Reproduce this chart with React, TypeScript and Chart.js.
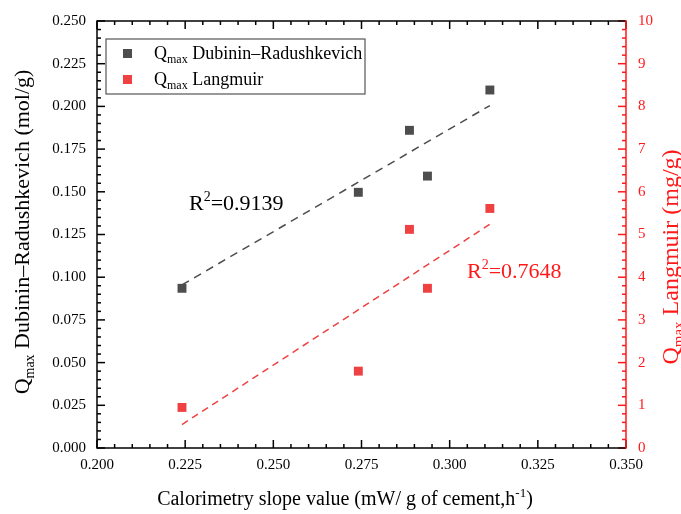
import React, { useEffect, useRef } from "react";
import { Chart, registerables } from "chart.js";

Chart.register(...registerables);

// ---- data ----
const slopeValues = [0.2241, 0.2741, 0.2886, 0.2937, 0.3114];
const qmaxDR = [0.0935, 0.1497, 0.186, 0.1592, 0.2096];
const qmaxLangmuir = [0.95, 1.8, 5.12, 3.74, 5.61];

const fitDRx = [0.2241, 0.3114];
const fitDRy = [0.0955, 0.2005];
const fitLangX = [0.2241, 0.3114];
const fitLangY = [0.55, 5.24];

const xTickValues = [0.2, 0.225, 0.25, 0.275, 0.3, 0.325, 0.35];
const leftTickValues = [0, 0.025, 0.05, 0.075, 0.1, 0.125, 0.15, 0.175, 0.2, 0.225, 0.25];
const rightTickValues = [0, 1, 2, 3, 4, 5, 6, 7, 8, 9, 10];

const r2DR = "0.9139";
const r2Lang = "0.7648";

const FONT = '"Liberation Serif", "Times New Roman", serif';
const GREY = "#4d4d4d";
const RED_PT = "#ef4141";
const RED = "#ff1a1a";

type Part = { text: string; size: number; dy?: number };

function measureParts(ctx: CanvasRenderingContext2D, parts: Part[]) {
  let w = 0;
  for (const p of parts) {
    ctx.font = `${p.size}px ${FONT}`;
    w += ctx.measureText(p.text).width;
  }
  return w;
}

function drawParts(ctx: CanvasRenderingContext2D, parts: Part[], x: number, y: number, color: string) {
  let cx = x;
  ctx.fillStyle = color;
  ctx.textAlign = "left";
  ctx.textBaseline = "alphabetic";
  for (const p of parts) {
    ctx.font = `${p.size}px ${FONT}`;
    ctx.fillText(p.text, cx, y + (p.dy || 0));
    cx += ctx.measureText(p.text).width;
  }
}

const framePlugin = {
  id: "framePlugin",
  afterDraw(chart: any) {
    const ctx: CanvasRenderingContext2D = chart.ctx;
    const { left, right, top, bottom } = chart.chartArea;
    const xs = chart.scales.x;
    const ys = chart.scales.y;
    const y1 = chart.scales.y1;
    ctx.save();
    ctx.lineWidth = 1.5;

    const tick = (x0: number, y0: number, x1: number, y1p: number, color: string) => {
      ctx.strokeStyle = color;
      ctx.beginPath();
      ctx.moveTo(x0, y0);
      ctx.lineTo(x1, y1p);
      ctx.stroke();
    };
    // x: minor step 0.005
    for (let i = 0; i <= 30; i++) {
      const v = 0.2 + i * 0.005;
      const px = xs.getPixelForValue(v);
      const len = i % 5 === 0 ? 8 : 4;
      tick(px, bottom, px, bottom - len, "#000");
      tick(px, top, px, top + len, "#000");
    }
    // left: minor step 0.005
    for (let i = 0; i <= 50; i++) {
      const v = i * 0.005;
      const py = ys.getPixelForValue(v);
      const len = i % 5 === 0 ? 8 : 4;
      tick(left, py, left + len, py, "#000");
    }
    // right: minor step 0.2
    for (let i = 0; i <= 50; i++) {
      const v = i * 0.2;
      const py = y1.getPixelForValue(v);
      const len = i % 5 === 0 ? 8 : 4;
      tick(right, py, right - len, py, RED);
    }
    // axis lines
    tick(left, top, right, top, "#000");
    tick(left, bottom, right, bottom, "#000");
    tick(left, top - 0.75, left, bottom + 0.75, "#000");
    tick(right, top - 0.75, right, bottom + 0.75, RED);

    // legend
    ctx.lineWidth = 1.2;
    ctx.strokeStyle = "#555";
    ctx.strokeRect(106, 39, 259, 55);
    ctx.fillStyle = GREY;
    ctx.fillRect(123, 49, 9, 9);
    ctx.fillStyle = RED_PT;
    ctx.fillRect(123, 75, 9, 9);
    drawParts(ctx, [
      { text: "Q", size: 18 },
      { text: "max", size: 12, dy: 4 },
      { text: " Dubinin\u2013Radushkevich", size: 18 },
    ], 154, 59, "#000");
    drawParts(ctx, [
      { text: "Q", size: 18 },
      { text: "max", size: 12, dy: 4 },
      { text: " Langmuir", size: 18 },
    ], 154, 85, "#000");

    // R^2 labels
    drawParts(ctx, [
      { text: "R", size: 22 },
      { text: "2", size: 14, dy: -9 },
      { text: "=" + r2DR, size: 22 },
    ], 189, 210, "#000");
    drawParts(ctx, [
      { text: "R", size: 22 },
      { text: "2", size: 14, dy: -9 },
      { text: "=" + r2Lang, size: 22 },
    ], 467, 278, RED);

    // x title
    const xt: Part[] = [
      { text: "Calorimetry slope value (mW/ g of cement,h", size: 20 },
      { text: "-1", size: 13, dy: -8 },
      { text: ")", size: 20 },
    ];
    const xw = measureParts(ctx, xt);
    drawParts(ctx, xt, 345 - xw / 2, 505, "#000");

    // left title
    const lt: Part[] = [
      { text: "Q", size: 22 },
      { text: "max", size: 14, dy: 5 },
      { text: " Dubinin\u2013Radushkevich (mol/g)", size: 22 },
    ];
    const lw = measureParts(ctx, lt);
    ctx.save();
    ctx.translate(29, 232);
    ctx.rotate(-Math.PI / 2);
    drawParts(ctx, lt, -lw / 2, 0, "#000");
    ctx.restore();

    // right title
    const rt: Part[] = [
      { text: "Q", size: 24 },
      { text: "max", size: 15, dy: 5 },
      { text: " Langmuir (mg/g)", size: 24 },
    ];
    const rw = measureParts(ctx, rt);
    ctx.save();
    ctx.translate(678, 257);
    ctx.rotate(-Math.PI / 2);
    drawParts(ctx, rt, -rw / 2, 0, RED);
    ctx.restore();

    ctx.restore();
  },
};

export default function App() {
  const ref = useRef<HTMLCanvasElement>(null);
  useEffect(() => {
    const canvas = ref.current!;
    const drPoints = slopeValues.map((x, i) => ({ x, y: qmaxDR[i] }));
    const lPoints = slopeValues.map((x, i) => ({ x, y: qmaxLangmuir[i] }));
    const drFit = fitDRx.map((x, i) => ({ x, y: fitDRy[i] }));
    const lFit = fitLangX.map((x, i) => ({ x, y: fitLangY[i] }));

    const chart = new Chart(canvas, {
      type: "scatter",
      data: {
        datasets: [
          {
            label: "DR fit",
            data: drFit,
            showLine: true,
            borderColor: GREY,
            borderWidth: 1.5,
            borderDash: [8, 6],
            pointRadius: 0,
            yAxisID: "y",
            order: 3,
          },
          {
            label: "Langmuir fit",
            data: lFit,
            showLine: true,
            borderColor: RED_PT,
            borderWidth: 1.5,
            borderDash: [7, 5],
            pointRadius: 0,
            yAxisID: "y1",
            order: 4,
          },
          {
            label: "Qmax Dubinin–Radushkevich",
            data: drPoints,
            pointStyle: "rect",
            pointRadius: 6.3,
            backgroundColor: GREY,
            borderWidth: 0,
            yAxisID: "y",
            order: 1,
          },
          {
            label: "Qmax Langmuir",
            data: lPoints,
            pointStyle: "rect",
            pointRadius: 6.3,
            backgroundColor: RED_PT,
            borderWidth: 0,
            yAxisID: "y1",
            order: 2,
          },
        ],
      },
      options: {
        responsive: false,
        animation: false,
        devicePixelRatio: 1,
        layout: { padding: { top: 21, left: 0, right: 0, bottom: 0 } },
        plugins: {
          legend: { display: false },
          tooltip: { enabled: false },
          title: { display: false },
        },
        scales: {
          x: {
            type: "linear",
            min: 0.2,
            max: 0.35,
            grid: { display: false, drawTicks: false },
            border: { display: false },
            afterBuildTicks: (s: any) => {
              s.ticks = xTickValues.map((v) => ({ value: v }));
            },
            afterFit: (s: any) => {
              s.height = 66;
            },
            ticks: {
              padding: 8,
              maxRotation: 0,
              autoSkip: false,
              color: "#000",
              font: { family: FONT, size: 15 },
              callback: (v: any) => Number(v).toFixed(3),
            },
          },
          y: {
            type: "linear",
            position: "left",
            min: 0,
            max: 0.25,
            grid: { display: false, drawTicks: false },
            border: { display: false },
            afterBuildTicks: (s: any) => {
              s.ticks = leftTickValues.map((v) => ({ value: v }));
            },
            afterFit: (s: any) => {
              s.width = 97;
            },
            ticks: {
              padding: 11,
              autoSkip: false,
              color: "#000",
              font: { family: FONT, size: 15 },
              callback: (v: any) => Number(v).toFixed(3),
            },
          },
          y1: {
            type: "linear",
            position: "right",
            min: 0,
            max: 10,
            grid: { display: false, drawTicks: false },
            border: { display: false },
            afterBuildTicks: (s: any) => {
              s.ticks = rightTickValues.map((v) => ({ value: v }));
            },
            afterFit: (s: any) => {
              s.width = 55;
            },
            ticks: {
              padding: 12,
              autoSkip: false,
              color: RED,
              font: { family: FONT, size: 15 },
              callback: (v: any) => String(v),
            },
          },
        },
      },
      plugins: [framePlugin],
    } as any);
    return () => chart.destroy();
  }, []);
  return (
    <div style={{ position: "fixed", left: 0, top: 0, width: 681, height: 514, background: "#fff" }}>
      <canvas ref={ref} width={681} height={514} style={{ display: "block", width: 681, height: 514 }} />
    </div>
  );
}
